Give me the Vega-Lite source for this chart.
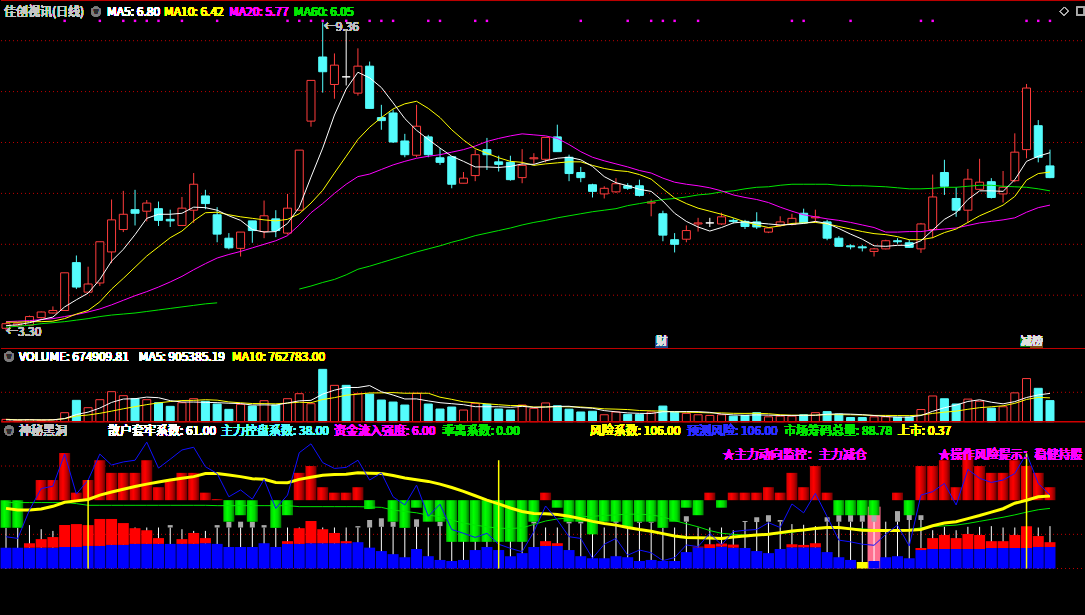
{
"$schema": "https://vega.github.io/schema/vega-lite/v6.json",
"background": "#000000",
"padding": 0,
"spacing": 0,
"bounds": "flush",
"config": {"view": {"stroke": null}, "axis": {"disable": true}, "legend": {"disable": true}, "scale": {"continuousPadding": 0}, "text": {"font": "Noto Sans CJK SC", "fontSize": 12, "align": "left", "baseline": "middle"}},
"datasets": {
"k": [
{"i":0,"o":3.35,"h":3.46,"l":3.30,"c":3.44,"d":"up","m5":3.40,"m10":3.47,"m20":3.48,"m60":3.37,"v":75000,"vd":"up","vm5":60000,"vm10":75000,"ub":119,"bl":61,"st":119,"bln":93,"yln":176,"gln":193,"dot":0},
{"i":1,"o":3.40,"h":3.47,"l":3.37,"c":3.45,"d":"up","m5":3.42,"m10":3.47,"m20":3.49,"m60":3.39,"v":45000,"vd":"up","vm5":58000,"vm10":60000,"ub":119,"bl":61,"st":119,"bln":88,"yln":171,"gln":193,"dot":0},
{"i":2,"o":3.41,"h":3.60,"l":3.39,"c":3.58,"d":"up","m5":3.46,"m10":3.48,"m20":3.50,"m60":3.41,"v":64000,"vd":"up","vm5":61000,"vm10":61000,"ub":200,"bl":61,"rd":74,"st":127,"bln":171,"yln":171,"gln":193,"dot":0},
{"i":3,"o":3.56,"h":3.68,"l":3.54,"c":3.67,"d":"up","m5":3.52,"m10":3.48,"m20":3.52,"m60":3.44,"v":45000,"vd":"up","vm5":57000,"vm10":57000,"ub":259,"bl":61,"rd":86,"st":115,"bln":234,"yln":174,"gln":193,"dot":0},
{"i":4,"o":3.65,"h":3.78,"l":3.64,"c":3.70,"d":"up","m5":3.57,"m10":3.49,"m20":3.54,"m60":3.46,"v":64000,"vd":"up","vm5":59000,"vm10":59000,"ub":259,"bl":61,"rd":92,"st":110,"bln":241,"yln":182,"gln":193,"dot":0},
{"i":5,"o":3.70,"h":4.44,"l":3.70,"c":4.44,"d":"up","m5":3.77,"m10":3.54,"m20":3.58,"m60":3.48,"v":288000,"vd":"up","vm5":101000,"vm10":97000,"ub":338,"bl":63,"rd":127,"st":120,"bln":335,"yln":194,"gln":193,"dot":1},
{"i":6,"o":4.64,"h":4.78,"l":4.12,"c":4.16,"d":"down","m5":3.91,"m10":3.63,"m20":3.62,"m60":3.51,"v":683000,"vd":"down","vm5":229000,"vm10":181000,"ub":222,"bl":63,"rd":130,"st":120,"bln":218,"yln":198,"gln":190,"dot":0},
{"i":7,"o":4.06,"h":4.56,"l":4.06,"c":4.22,"d":"up","m5":4.04,"m10":3.70,"m20":3.67,"m60":3.54,"v":448000,"vd":"up","vm5":306000,"vm10":214000,"ub":259,"bl":66,"rd":127,"st":120,"bln":259,"yln":202,"gln":185,"dot":0},
{"i":8,"o":4.24,"h":5.05,"l":4.18,"c":5.05,"d":"up","m5":4.31,"m10":3.87,"m20":3.73,"m60":3.58,"v":704000,"vd":"up","vm5":437000,"vm10":268000,"ub":317,"bl":66,"rd":145,"st":120,"bln":335,"yln":215,"gln":185,"dot":1},
{"i":9,"o":4.85,"h":5.88,"l":4.63,"c":5.48,"d":"up","m5":4.67,"m10":4.12,"m20":3.81,"m60":3.61,"v":960000,"vd":"up","vm5":617000,"vm10":338000,"ub":280,"bl":69,"rd":145,"st":120,"bln":303,"yln":224,"gln":185,"dot":0},
{"i":10,"o":5.29,"h":6.05,"l":5.24,"c":5.59,"d":"up","m5":4.90,"m10":4.33,"m20":3.90,"m60":3.63,"v":832000,"vd":"up","vm5":725000,"vm10":413000,"ub":280,"bl":69,"rd":133,"st":120,"bln":312,"yln":232,"gln":185,"dot":1},
{"i":11,"o":5.68,"h":6.07,"l":5.37,"c":5.61,"d":"down","m5":5.19,"m10":4.55,"m20":3.99,"m60":3.65,"v":736000,"vd":"down","vm5":736000,"vm10":482000,"ub":280,"bl":72,"rd":118,"st":120,"bln":317,"yln":240,"gln":185,"dot":1},
{"i":12,"o":5.65,"h":5.87,"l":5.45,"c":5.81,"d":"up","m5":5.51,"m10":4.77,"m20":4.07,"m60":3.68,"v":704000,"vd":"up","vm5":787000,"vm10":546000,"ub":317,"bl":72,"rd":112,"st":120,"bln":370,"yln":247,"gln":185,"dot":1},
{"i":13,"o":5.70,"h":5.84,"l":5.36,"c":5.47,"d":"down","m5":5.59,"m10":4.95,"m20":4.16,"m60":3.71,"v":608000,"vd":"down","vm5":768000,"vm10":603000,"ub":238,"bl":72,"rd":89,"st":120,"bln":294,"yln":253,"gln":185,"dot":1},
{"i":14,"o":5.49,"h":5.68,"l":5.34,"c":5.46,"d":"down","m5":5.59,"m10":5.13,"m20":4.26,"m60":3.74,"v":491000,"vd":"down","vm5":674000,"vm10":645000,"ub":259,"bl":72,"st":120,"g0":120,"g1":127,"bln":320,"yln":259,"gln":185,"dot":0},
{"i":15,"o":5.37,"h":5.93,"l":5.37,"c":5.71,"d":"up","m5":5.61,"m10":5.26,"m20":4.37,"m60":3.77,"v":608000,"vd":"up","vm5":629000,"vm10":677000,"ub":280,"bl":72,"rd":86,"st":115,"bln":347,"yln":264,"gln":185,"dot":1},
{"i":16,"o":5.67,"h":6.40,"l":5.42,"c":6.18,"d":"up","m5":5.73,"m10":5.46,"m20":4.50,"m60":3.80,"v":736000,"vd":"up","vm5":629000,"vm10":683000,"ub":280,"bl":72,"rd":104,"st":110,"bln":355,"yln":269,"gln":185,"dot":0},
{"i":17,"o":5.95,"h":6.07,"l":5.69,"c":5.80,"d":"down","m5":5.72,"m10":5.62,"m20":4.62,"m60":3.83,"v":651000,"vd":"down","vm5":619000,"vm10":703000,"ub":222,"bl":74,"rd":89,"st":110,"bln":298,"yln":278,"gln":185,"dot":0},
{"i":18,"o":5.58,"h":5.73,"l":5.04,"c":5.20,"d":"down","m5":5.67,"m10":5.63,"m20":4.73,"m60":3.85,"v":565000,"vd":"down","vm5":610000,"vm10":689000,"ub":203,"bl":72,"st":120,"g0":120,"g1":127,"bln":278,"yln":278,"gln":184,"dot":1},
{"i":19,"o":5.12,"h":5.22,"l":4.90,"c":4.93,"d":"down","m5":5.56,"m10":5.58,"m20":4.80,"v":395000,"vd":"down","vm5":591000,"vm10":633000,"ub":137,"bl":63,"st":120,"g0":120,"g1":137,"bln":210,"yln":274,"gln":184,"dot":0},
{"i":20,"o":4.92,"h":5.24,"l":4.76,"c":5.24,"d":"up","m5":5.47,"m10":5.54,"m20":4.86,"v":555000,"vd":"up","vm5":580000,"vm10":605000,"ub":156,"bl":63,"st":120,"g0":120,"g1":137,"bln":230,"yln":269,"gln":184,"dot":0},
{"i":21,"o":5.46,"h":5.46,"l":5.03,"c":5.27,"d":"down","m5":5.29,"m10":5.51,"m20":4.93,"v":501000,"vd":"down","vm5":533000,"vm10":581000,"ub":137,"bl":63,"st":120,"g0":120,"g1":137,"bln":203,"yln":263,"gln":184,"dot":0},
{"i":22,"o":5.25,"h":5.86,"l":5.12,"c":5.56,"d":"up","m5":5.24,"m10":5.48,"m20":5.00,"v":672000,"vd":"up","vm5":538000,"vm10":578000,"ub":200,"bl":74,"st":120,"g0":120,"g1":127,"bln":261,"yln":261,"gln":184,"dot":0},
{"i":23,"o":5.50,"h":5.67,"l":5.14,"c":5.27,"d":"down","m5":5.25,"m10":5.46,"m20":5.07,"v":533000,"vd":"down","vm5":531000,"vm10":571000,"ub":119,"bl":63,"st":119,"bln":176,"yln":252,"gln":184,"dot":0},
{"i":24,"o":5.22,"h":5.99,"l":5.19,"c":5.71,"d":"up","m5":5.41,"m10":5.49,"m20":5.17,"v":736000,"vd":"up","vm5":599000,"vm10":595000,"ub":156,"bl":72,"rd":80,"st":120,"bln":215,"yln":251,"gln":184,"dot":1},
{"i":25,"o":5.67,"h":6.85,"l":5.67,"c":6.85,"d":"up","m5":5.73,"m10":5.60,"m20":5.38,"m60":4.12,"v":896000,"vd":"up","vm5":668000,"vm10":624000,"ub":280,"bl":72,"rd":118,"st":120,"bln":339,"yln":261,"gln":181,"dot":1},
{"i":26,"o":7.42,"h":8.22,"l":7.31,"c":8.22,"d":"up","m5":6.32,"m10":5.81,"m20":5.62,"m60":4.18,"v":576000,"vd":"up","vm5":683000,"vm10":608000,"ub":300,"bl":74,"rd":139,"st":120,"bln":365,"yln":267,"gln":181,"dot":1},
{"i":27,"o":8.68,"h":9.36,"l":7.98,"c":8.39,"d":"down","m5":6.89,"m10":6.06,"m20":5.80,"m60":4.25,"v":1675000,"vd":"down","vm5":883000,"vm10":710000,"ub":238,"bl":74,"rd":115,"st":120,"bln":310,"yln":273,"gln":181,"dot":1},
{"i":28,"o":8.14,"h":8.75,"l":7.86,"c":8.52,"d":"up","m5":7.54,"m10":6.40,"m20":6.00,"m60":4.31,"v":1163000,"vd":"up","vm5":1009000,"vm10":770000,"ub":222,"bl":74,"rd":104,"st":120,"bln":293,"yln":275,"gln":181,"dot":0},
{"i":29,"o":8.29,"h":9.21,"l":8.12,"c":8.29,"d":"flat","m5":8.05,"m10":6.73,"m20":6.18,"m60":4.40,"v":1163000,"vd":"down","vm5":1095000,"vm10":847000,"ub":222,"bl":74,"rd":80,"st":120,"bln":296,"yln":276,"gln":181,"dot":1},
{"i":30,"o":7.97,"h":8.85,"l":7.92,"c":8.50,"d":"up","m5":8.38,"m10":7.06,"m20":6.33,"m60":4.51,"v":896000,"vd":"up","vm5":1095000,"vm10":881000,"ub":238,"bl":77,"st":120,"g0":120,"g1":124,"bln":317,"yln":280,"gln":181,"dot":0},
{"i":31,"o":8.50,"h":8.59,"l":7.67,"c":7.67,"d":"down","m5":8.27,"m10":7.30,"m20":6.38,"m60":4.57,"v":885000,"vd":"down","vm5":1156000,"vm10":920000,"ub":174,"bl":61,"st":120,"g0":120,"g1":142,"bln":259,"yln":279,"gln":180,"dot":1},
{"i":32,"o":7.49,"h":7.74,"l":7.25,"c":7.43,"d":"down","m5":8.08,"m10":7.49,"m20":6.47,"m60":4.64,"v":693000,"vd":"down","vm5":960000,"vm10":922000,"ub":200,"bl":51,"st":122,"g0":122,"g1":147,"bln":280,"yln":278,"gln":179,"dot":1},
{"i":33,"o":7.58,"h":7.65,"l":6.99,"c":7.01,"d":"down","m5":7.78,"m10":7.66,"m20":6.56,"m60":4.71,"v":629000,"vd":"down","vm5":853000,"vm10":931000,"ub":137,"bl":42,"st":122,"g0":122,"g1":137,"bln":210,"yln":272,"gln":171,"dot":1},
{"i":34,"o":7.03,"h":7.17,"l":6.71,"c":6.76,"d":"down","m5":7.47,"m10":7.76,"m20":6.63,"m60":4.78,"v":533000,"vd":"down","vm5":727000,"vm10":911000,"ub":119,"bl":33,"st":119,"bln":186,"yln":265,"gln":167,"dot":0},
{"i":35,"o":6.75,"h":7.74,"l":6.71,"c":7.32,"d":"up","m5":7.24,"m10":7.81,"m20":6.69,"m60":4.85,"v":907000,"vd":"up","vm5":729000,"vm10":912000,"ub":178,"bl":57,"st":122,"g0":122,"g1":144,"bln":244,"yln":260,"gln":163,"dot":0},
{"i":36,"o":7.11,"h":7.15,"l":6.71,"c":6.76,"d":"down","m5":7.06,"m10":7.67,"m20":6.73,"m60":4.91,"v":565000,"vd":"down","vm5":665000,"vm10":911000,"ub":137,"bl":36,"st":120,"bln":153,"yln":255,"gln":156,"dot":1},
{"i":37,"o":6.70,"h":6.89,"l":6.56,"c":6.61,"d":"down","m5":6.89,"m10":7.49,"m20":6.76,"m60":4.97,"v":405000,"vd":"down","vm5":608000,"vm10":784000,"ub":137,"bl":25,"st":124,"g0":124,"g1":137,"bln":188,"yln":247,"gln":152,"dot":1},
{"i":38,"o":6.72,"h":6.72,"l":6.10,"c":6.18,"d":"down","m5":6.73,"m10":7.25,"m20":6.81,"m60":5.04,"v":469000,"vd":"down","vm5":576000,"vm10":715000,"ub":78,"bl":22,"st":120,"bln":114,"yln":237,"gln":142,"dot":0},
{"i":39,"o":6.20,"h":6.42,"l":6.20,"c":6.30,"d":"up","m5":6.63,"m10":7.05,"m20":6.86,"m60":5.10,"v":373000,"vd":"up","vm5":544000,"vm10":636000,"ub":78,"bl":25,"st":120,"bln":103,"yln":226,"gln":133,"dot":0},
{"i":40,"o":6.35,"h":6.86,"l":6.24,"c":6.76,"d":"up","m5":6.52,"m10":6.88,"m20":6.93,"m60":5.17,"v":587000,"vd":"up","vm5":480000,"vm10":605000,"ub":78,"bl":54,"st":120,"bln":91,"yln":213,"gln":127,"dot":1},
{"i":41,"o":6.86,"h":7.09,"l":6.46,"c":6.76,"d":"down","m5":6.52,"m10":6.79,"m20":7.02,"m60":5.22,"v":555000,"vd":"down","vm5":478000,"vm10":572000,"ub":78,"bl":63,"st":120,"bln":103,"yln":200,"gln":122,"dot":1},
{"i":42,"o":6.62,"h":6.74,"l":6.43,"c":6.57,"d":"down","m5":6.51,"m10":6.70,"m20":7.08,"m60":5.27,"v":405000,"vd":"down","vm5":478000,"vm10":543000,"ub":78,"bl":54,"st":120,"bln":71,"yln":189,"gln":118,"dot":0},
{"i":43,"o":6.61,"h":6.74,"l":6.25,"c":6.27,"d":"down","m5":6.53,"m10":6.63,"m20":7.13,"m60":5.32,"v":373000,"vd":"down","vm5":459000,"vm10":517000,"ub":78,"bl":36,"st":120,"bln":59,"yln":177,"gln":117,"dot":0},
{"i":44,"o":6.31,"h":6.87,"l":6.20,"c":6.55,"d":"up","m5":6.58,"m10":6.61,"m20":7.17,"m60":5.38,"v":533000,"vd":"up","vm5":491000,"vm10":517000,"ub":78,"bl":45,"st":120,"bln":49,"yln":167,"gln":119,"dot":0},
{"i":45,"o":6.68,"h":6.79,"l":6.58,"c":6.70,"d":"up","m5":6.57,"m10":6.55,"m20":7.15,"m60":5.43,"v":427000,"vd":"up","vm5":459000,"vm10":469000,"ub":137,"bl":63,"st":132,"g0":132,"g1":137,"bln":108,"yln":161,"gln":129,"dot":0},
{"i":46,"o":6.67,"h":7.10,"l":6.61,"c":7.10,"d":"up","m5":6.64,"m10":6.58,"m20":7.13,"m60":5.47,"v":600000,"vd":"up","vm5":468000,"vm10":473000,"ub":222,"bl":66,"rd":80,"st":120,"bln":183,"yln":160,"gln":139,"dot":0},
{"i":47,"o":7.11,"h":7.35,"l":6.82,"c":6.82,"d":"down","m5":6.69,"m10":6.60,"m20":7.08,"m60":5.52,"v":510000,"vd":"down","vm5":489000,"vm10":483000,"ub":178,"bl":66,"rd":74,"st":120,"bln":142,"yln":158,"gln":145,"dot":0},
{"i":48,"o":6.71,"h":6.76,"l":6.24,"c":6.39,"d":"down","m5":6.71,"m10":6.62,"m20":6.96,"m60":5.56,"v":400000,"vd":"down","vm5":494000,"vm10":476000,"ub":137,"bl":54,"st":132,"g0":132,"g1":137,"bln":93,"yln":153,"gln":148,"dot":0},
{"i":49,"o":6.41,"h":6.52,"l":6.22,"c":6.31,"d":"down","m5":6.66,"m10":6.62,"m20":6.82,"m60":5.60,"v":311000,"vd":"down","vm5":450000,"vm10":470000,"ub":137,"bl":36,"st":132,"g0":132,"g1":137,"bln":88,"yln":146,"gln":151,"dot":1},
{"i":50,"o":6.17,"h":6.19,"l":5.92,"c":6.04,"d":"down","m5":6.53,"m10":6.55,"m20":6.71,"m60":5.64,"v":334000,"vd":"down","vm5":431000,"vm10":445000,"ub":100,"bl":30,"st":120,"bln":30,"yln":138,"gln":153,"dot":0},
{"i":51,"o":5.99,"h":6.14,"l":5.90,"c":6.10,"d":"up","m5":6.33,"m10":6.49,"m20":6.64,"m60":5.67,"v":222000,"vd":"up","vm5":355000,"vm10":412000,"ub":137,"bl":30,"st":120,"bln":71,"yln":132,"gln":155,"dot":0},
{"i":52,"o":6.03,"h":6.30,"l":6.01,"c":6.19,"d":"up","m5":6.21,"m10":6.45,"m20":6.58,"m60":5.70,"v":311000,"vd":"up","vm5":316000,"vm10":402000,"ub":137,"bl":36,"st":134,"g0":134,"g1":156,"bln":88,"yln":127,"gln":157,"dot":0},
{"i":53,"o":6.15,"h":6.20,"l":6.07,"c":6.10,"d":"down","m5":6.15,"m10":6.43,"m20":6.52,"m60":5.76,"v":234000,"vd":"down","vm5":282000,"vm10":388000,"ub":119,"bl":33,"st":119,"bln":39,"yln":120,"gln":159,"dot":1},
{"i":54,"o":6.15,"h":6.27,"l":5.94,"c":5.96,"d":"down","m5":6.08,"m10":6.37,"m20":6.45,"m60":5.80,"v":234000,"vd":"down","vm5":267000,"vm10":358000,"ub":137,"bl":22,"st":134,"g0":134,"g1":137,"bln":54,"yln":114,"gln":159,"dot":0},
{"i":55,"o":5.81,"h":5.88,"l":5.55,"c":5.83,"d":"up","m5":6.04,"m10":6.28,"m20":6.40,"m60":5.84,"v":311000,"vd":"up","vm5":262000,"vm10":347000,"ub":137,"bl":25,"st":134,"g0":134,"g1":137,"bln":46,"yln":109,"gln":157,"dot":1},
{"i":56,"o":5.60,"h":5.66,"l":5.06,"c":5.18,"d":"down","m5":5.85,"m10":6.09,"m20":6.30,"m60":5.88,"v":500000,"vd":"down","vm5":318000,"vm10":337000,"ub":119,"bl":22,"st":119,"bln":23,"yln":102,"gln":151,"dot":1},
{"i":57,"o":5.09,"h":5.22,"l":4.84,"c":5.00,"d":"down","m5":5.61,"m10":5.91,"m20":6.22,"m60":5.90,"v":311000,"vd":"down","vm5":318000,"vm10":317000,"ub":137,"bl":22,"st":120,"bln":32,"yln":95,"gln":140,"dot":1},
{"i":58,"o":5.10,"h":5.37,"l":5.04,"c":5.27,"d":"up","m5":5.45,"m10":5.80,"m20":6.18,"m60":5.93,"v":267000,"vd":"up","vm5":325000,"vm10":304000,"ub":178,"bl":48,"st":137,"g0":137,"g1":153,"bln":69,"yln":91,"gln":131,"dot":0},
{"i":59,"o":5.40,"h":5.52,"l":5.25,"c":5.42,"d":"up","m5":5.34,"m10":5.71,"m20":6.15,"m60":5.97,"v":222000,"vd":"up","vm5":322000,"vm10":295000,"ub":156,"bl":62,"rd":64,"st":120,"bln":64,"yln":90,"gln":122,"dot":1},
{"i":60,"o":5.42,"h":5.52,"l":5.34,"c":5.42,"d":"flat","m5":5.26,"m10":5.65,"m20":6.11,"m60":5.99,"v":200000,"vd":"up","vm5":300000,"vm10":281000,"ub":222,"bl":60,"rd":71,"st":120,"bln":103,"yln":89,"gln":111,"dot":0},
{"i":61,"o":5.40,"h":5.62,"l":5.38,"c":5.54,"d":"up","m5":5.33,"m10":5.59,"m20":6.05,"m60":6.03,"v":222000,"vd":"up","vm5":244000,"vm10":281000,"ub":178,"bl":64,"rd":73,"st":120,"bln":69,"yln":88,"gln":103,"dot":0},
{"i":62,"o":5.47,"h":5.51,"l":5.41,"c":5.45,"d":"down","m5":5.42,"m10":5.52,"m20":5.97,"m60":6.05,"v":178000,"vd":"down","vm5":218000,"vm10":268000,"ub":222,"bl":61,"rd":70,"st":112,"bln":108,"yln":92,"gln":100,"dot":0},
{"i":63,"o":5.45,"h":5.48,"l":5.30,"c":5.35,"d":"down","m5":5.44,"m10":5.44,"m20":5.92,"m60":6.09,"v":200000,"vd":"down","vm5":204000,"vm10":265000,"ub":222,"bl":60,"st":136,"g0":136,"g1":139,"bln":112,"yln":95,"gln":98,"dot":0},
{"i":64,"o":5.44,"h":5.63,"l":5.30,"c":5.34,"d":"down","m5":5.42,"m10":5.38,"m20":5.88,"m60":6.12,"v":289000,"vd":"down","vm5":218000,"vm10":270000,"ub":222,"bl":51,"st":136,"g0":136,"g1":150,"bln":114,"yln":98,"gln":96,"dot":0},
{"i":65,"o":5.24,"h":5.33,"l":5.22,"c":5.32,"d":"up","m5":5.40,"m10":5.33,"m20":5.82,"m60":6.13,"v":156000,"vd":"up","vm5":209000,"vm10":255000,"ub":238,"bl":45,"st":137,"g0":137,"g1":156,"bln":134,"yln":100,"gln":99,"dot":0},
{"i":66,"o":5.37,"h":5.55,"l":5.35,"c":5.44,"d":"up","m5":5.38,"m10":5.36,"m20":5.73,"m60":6.16,"v":178000,"vd":"up","vm5":200000,"vm10":222000,"ub":222,"bl":57,"st":137,"g0":137,"g1":142,"bln":120,"yln":105,"gln":102,"dot":0},
{"i":67,"o":5.39,"h":5.60,"l":5.37,"c":5.51,"d":"up","m5":5.39,"m10":5.41,"m20":5.65,"m60":6.18,"v":178000,"vd":"up","vm5":200000,"vm10":209000,"ub":280,"bl":62,"rd":71,"st":130,"bln":189,"yln":110,"gln":106,"dot":1},
{"i":68,"o":5.61,"h":5.70,"l":5.41,"c":5.42,"d":"down","m5":5.41,"m10":5.42,"m20":5.58,"m60":6.18,"v":222000,"vd":"down","vm5":205000,"vm10":205000,"ub":238,"bl":62,"rd":69,"st":128,"bln":163,"yln":113,"gln":111,"dot":1},
{"i":69,"o":5.52,"h":5.68,"l":5.43,"c":5.54,"d":"up","m5":5.45,"m10":5.43,"m20":5.54,"m60":6.18,"v":289000,"vd":"up","vm5":205000,"vm10":211000,"ub":300,"bl":62,"rd":74,"st":124,"bln":220,"yln":117,"gln":116,"dot":0},
{"i":70,"o":5.44,"h":5.48,"l":5.08,"c":5.12,"d":"down","m5":5.41,"m10":5.40,"m20":5.50,"m60":6.18,"v":323000,"vd":"down","vm5":238000,"vm10":224000,"ub":222,"bl":48,"st":137,"g0":137,"g1":150,"bln":152,"yln":120,"gln":119,"dot":0},
{"i":71,"o":5.12,"h":5.16,"l":4.95,"c":4.96,"d":"down","m5":5.31,"m10":5.35,"m20":5.47,"m60":6.16,"v":245000,"vd":"down","vm5":251000,"vm10":226000,"ub":156,"bl":33,"st":137,"g0":137,"g1":156,"bln":83,"yln":120,"gln":120,"dot":0},
{"i":72,"o":4.97,"h":5.00,"l":4.90,"c":4.95,"d":"down","m5":5.20,"m10":5.30,"m20":5.43,"m60":6.15,"v":133000,"vd":"down","vm5":242000,"vm10":221000,"ub":156,"bl":25,"st":137,"g0":137,"g1":156,"bln":78,"yln":116,"gln":118,"dot":1},
{"i":73,"o":4.95,"h":4.99,"l":4.86,"c":4.93,"d":"down","m5":5.10,"m10":5.25,"m20":5.38,"m60":6.15,"v":133000,"vd":"down","vm5":225000,"vm10":215000,"ub":156,"bl":0,"st":137,"g0":137,"g1":156,"bln":71,"yln":112,"gln":116,"dot":0},
{"i":74,"o":4.86,"h":4.93,"l":4.76,"c":4.91,"d":"up","m5":4.97,"m10":5.21,"m20":5.33,"m60":6.14,"v":156000,"vd":"up","vm5":198000,"vm10":201000,"ub":156,"bl":22,"st":137,"g0":137,"g1":156,"bln":68,"yln":111,"gln":114,"dot":0},
{"i":75,"o":4.91,"h":5.09,"l":4.90,"c":5.07,"d":"up","m5":4.96,"m10":5.19,"m20":5.24,"m60":6.13,"v":156000,"vd":"up","vm5":165000,"vm10":201000,"ub":200,"bl":33,"st":137,"bln":100,"yln":111,"gln":114,"dot":0},
{"i":76,"o":5.07,"h":5.12,"l":5.01,"c":5.05,"d":"down","m5":4.98,"m10":5.15,"m20":5.24,"m60":6.11,"v":145000,"vd":"down","vm5":145000,"vm10":198000,"ub":222,"bl":36,"st":137,"g0":137,"g1":168,"bln":127,"yln":111,"gln":114,"dot":0},
{"i":77,"o":5.03,"h":5.09,"l":4.93,"c":4.94,"d":"down","m5":4.98,"m10":5.09,"m20":5.25,"m60":6.09,"v":145000,"vd":"down","vm5":147000,"vm10":195000,"ub":156,"bl":30,"st":142,"g0":142,"g1":166,"bln":66,"yln":112,"gln":114,"dot":0},
{"i":78,"o":4.91,"h":5.42,"l":4.83,"c":5.40,"d":"up","m5":5.07,"m10":5.09,"m20":5.25,"m60":6.09,"v":389000,"vd":"up","vm5":198000,"vm10":211000,"ub":300,"bl":54,"rd":60,"st":142,"g0":142,"g1":156,"bln":215,"yln":114,"gln":119,"dot":1},
{"i":79,"o":5.29,"h":6.37,"l":5.12,"c":5.93,"d":"up","m5":5.28,"m10":5.13,"m20":5.28,"m60":6.10,"v":823000,"vd":"up","vm5":332000,"vm10":265000,"ub":300,"bl":57,"rd":89,"st":112,"bln":225,"yln":125,"gln":123,"dot":1},
{"i":80,"o":6.41,"h":6.66,"l":5.97,"c":6.14,"d":"down","m5":5.49,"m10":5.23,"m20":5.30,"m60":6.12,"v":734000,"vd":"down","vm5":447000,"vm10":306000,"ub":317,"bl":57,"rd":98,"st":122,"bln":249,"yln":133,"gln":125,"dot":0},
{"i":81,"o":5.90,"h":6.12,"l":5.54,"c":5.67,"d":"down","m5":5.62,"m10":5.30,"m20":5.32,"m60":6.12,"v":567000,"vd":"down","vm5":532000,"vm10":338000,"ub":238,"bl":57,"rd":89,"st":112,"bln":186,"yln":137,"gln":127,"dot":0},
{"i":82,"o":5.67,"h":6.48,"l":5.42,"c":6.28,"d":"up","m5":5.88,"m10":5.43,"m20":5.37,"m60":6.14,"v":723000,"vd":"up","vm5":647000,"vm10":397000,"ub":337,"bl":57,"rd":101,"st":122,"bln":290,"yln":146,"gln":132,"dot":0},
{"i":83,"o":6.08,"h":6.68,"l":6.07,"c":6.22,"d":"up","m5":6.05,"m10":5.56,"m20":5.42,"m60":6.16,"v":656000,"vd":"up","vm5":701000,"vm10":449000,"ub":300,"bl":57,"rd":98,"st":122,"bln":264,"yln":155,"gln":138,"dot":0},
{"i":84,"o":6.23,"h":6.30,"l":5.90,"c":5.92,"d":"down","m5":6.05,"m10":5.66,"m20":5.45,"m60":6.16,"v":434000,"vd":"down","vm5":623000,"vm10":477000,"ub":280,"bl":60,"rd":80,"st":124,"bln":252,"yln":165,"gln":144,"dot":0},
{"i":85,"o":5.99,"h":6.44,"l":5.82,"c":6.12,"d":"up","m5":6.04,"m10":5.77,"m20":5.48,"m60":6.14,"v":478000,"vd":"up","vm5":572000,"vm10":509000,"ub":280,"bl":60,"rd":80,"st":120,"bln":259,"yln":175,"gln":150,"dot":0},
{"i":86,"o":6.25,"h":7.18,"l":6.22,"c":6.81,"d":"up","m5":6.27,"m10":5.94,"m20":5.52,"m60":6.13,"v":923000,"vd":"up","vm5":643000,"vm10":587000,"ub":317,"bl":60,"rd":98,"st":120,"bln":278,"yln":191,"gln":157,"dot":0},
{"i":87,"o":6.86,"h":8.15,"l":6.69,"c":8.07,"d":"up","m5":6.63,"m10":6.26,"m20":5.63,"m60":6.12,"v":1380000,"vd":"up","vm5":774000,"vm10":711000,"ub":300,"bl":60,"rd":124,"st":120,"bln":337,"yln":200,"gln":165,"dot":1},
{"i":88,"o":7.33,"h":7.44,"l":6.61,"c":6.71,"d":"down","m5":6.73,"m10":6.39,"m20":5.72,"m60":6.09,"v":1068000,"vd":"down","vm5":857000,"vm10":779000,"ub":280,"bl":63,"rd":95,"st":120,"bln":249,"yln":210,"gln":172,"dot":1},
{"i":89,"o":6.54,"h":6.86,"l":6.30,"c":6.31,"d":"down","m5":6.80,"m10":6.42,"m20":5.77,"m60":6.05,"v":674910,"vd":"down","vm5":905385,"vm10":762783,"ub":238,"bl":63,"rd":77,"st":124,"bln":215,"yln":212,"gln":176,"dot":1}
],
"ev": [
{"i":74,"kind":"pink","lo":0,"hi":181},
{"i":73,"kind":"yb","lo":0,"hi":19},
{"i":7,"kind":"vl","lo":0,"hi":259},
{"i":42,"kind":"vl","lo":0,"hi":317},
{"i":87,"kind":"vl","lo":0,"hi":337}
]
},
"vconcat": [
{
"width": 1085, "height": 349,
"data": {"name": "k"},
"layer": [
{"data": {"values": [{"p":4},{"p":5},{"p":6},{"p":7},{"p":8},{"p":9}]}, "mark": {"type": "rule", "color": "#c00000", "strokeDash": [1,3], "strokeWidth": 1}, "encoding": {"y": {"field": "p", "type": "quantitative", "scale": {"domain": [2.943, 9.7996], "nice": false, "zero": false, "padding": 0}}}},
{"data": {"values": [{"p":9.789},{"p":2.953}]}, "mark": {"type": "rule", "color": "#c00000", "strokeWidth": 1}, "encoding": {"y": {"field": "p", "type": "quantitative"}}},
{"mark": {"type": "rule", "strokeWidth": 1}, "encoding": {"x": {"field": "i", "type": "quantitative", "scale": {"domain": [-0.4263, 92.07], "nice": false, "zero": false, "padding": 0}}, "y": {"field": "l", "type": "quantitative"}, "y2": {"field": "h"}, "color": {"field": "d", "type": "nominal", "scale": {"domain": ["up","down","flat"], "range": ["#ff3c3c","#54fcfc","#ffffff"]}, "legend": null}}},
{"mark": {"type": "bar", "size": 8, "strokeWidth": 1}, "encoding": {"x": {"field": "i", "type": "quantitative"}, "y": {"field": "o", "type": "quantitative"}, "y2": {"field": "c"}, "fill": {"field": "d", "type": "nominal", "scale": {"domain": ["up","down","flat"], "range": ["#000000","#54fcfc","#ffffff"]}, "legend": null}, "stroke": {"field": "d", "type": "nominal", "scale": {"domain": ["up","down","flat"], "range": ["#ff3c3c","#54fcfc","#ffffff"]}, "legend": null}}},
{"transform": [{"filter": "datum.i <= 18"}], "mark": {"type": "line", "color": "#00e600", "strokeWidth": 1}, "encoding": {"x": {"field": "i", "type": "quantitative"}, "y": {"field": "m60", "type": "quantitative"}}},
{"transform": [{"filter": "datum.i >= 25"}], "mark": {"type": "line", "color": "#00e600", "strokeWidth": 1}, "encoding": {"x": {"field": "i", "type": "quantitative"}, "y": {"field": "m60", "type": "quantitative"}}},
{"mark": {"type": "line", "color": "#ff00ff", "strokeWidth": 1}, "encoding": {"x": {"field": "i", "type": "quantitative"}, "y": {"field": "m20", "type": "quantitative"}}},
{"mark": {"type": "line", "color": "#ffff00", "strokeWidth": 1}, "encoding": {"x": {"field": "i", "type": "quantitative"}, "y": {"field": "m10", "type": "quantitative"}}},
{"mark": {"type": "line", "color": "#ffffff", "strokeWidth": 1}, "encoding": {"x": {"field": "i", "type": "quantitative"}, "y": {"field": "m5", "type": "quantitative"}}},
{"transform": [{"filter": "datum.dot == 1"}], "mark": {"type": "point", "shape": "square", "filled": true, "size": 6, "color": "#ff00ff", "opacity": 1}, "encoding": {"x": {"field": "i", "type": "quantitative"}, "y": {"datum": 9.39, "type": "quantitative"}}},
{"mark": {"type": "text", "text": "佳创视讯(日线)", "color": "#c8c8c8"}, "encoding": {"x": {"datum": -0.17, "type": "quantitative"}, "y": {"datum": 9.564, "type": "quantitative"}}},
{"mark": {"type": "point", "shape": "circle", "filled": true, "size": 95, "color": "#7c7c7c", "opacity": 1}, "encoding": {"x": {"datum": 7.67, "type": "quantitative"}, "y": {"datum": 9.57, "type": "quantitative"}}},
{"mark": {"type": "text", "text": "∨", "color": "#2a2a2a", "fontSize": 8, "align": "center", "font": "DejaVu Sans", "fontWeight": "bold"}, "encoding": {"x": {"datum": 7.67, "type": "quantitative"}, "y": {"datum": 9.56, "type": "quantitative"}}},
{"mark": {"type": "text", "text": "MA5: 6.80", "color": "#ffffff"}, "encoding": {"x": {"datum": 8.61, "type": "quantitative"}, "y": {"datum": 9.564, "type": "quantitative"}}},
{"mark": {"type": "text", "text": "MA10: 6.42", "color": "#ffff00"}, "encoding": {"x": {"datum": 13.47, "type": "quantitative"}, "y": {"datum": 9.564, "type": "quantitative"}}},
{"mark": {"type": "text", "text": "MA20: 5.77", "color": "#ff00ff"}, "encoding": {"x": {"datum": 19.01, "type": "quantitative"}, "y": {"datum": 9.564, "type": "quantitative"}}},
{"mark": {"type": "text", "text": "MA60: 6.05", "color": "#00e600"}, "encoding": {"x": {"datum": 24.55, "type": "quantitative"}, "y": {"datum": 9.564, "type": "quantitative"}}},
{"mark": {"type": "text", "text": "←9.36", "color": "#c0c0c0", "dx": 1}, "encoding": {"x": {"datum": 27, "type": "quantitative"}, "y": {"datum": 9.27, "type": "quantitative"}}},
{"mark": {"type": "text", "text": "←3.30", "color": "#c0c0c0"}, "encoding": {"x": {"datum": 0, "type": "quantitative"}, "y": {"datum": 3.27, "type": "quantitative"}}},
{"mark": {"type": "point", "shape": "square", "filled": true, "size": 144, "color": "#1e4a8c", "opacity": 1}, "encoding": {"x": {"datum": 55.9, "type": "quantitative"}, "y": {"datum": 3.08, "type": "quantitative"}}},
{"mark": {"type": "text", "text": "财", "color": "#e0e0e0", "align": "center", "fontSize": 11}, "encoding": {"x": {"datum": 55.9, "type": "quantitative"}, "y": {"datum": 3.08, "type": "quantitative"}}},
{"mark": {"type": "point", "shape": "square", "filled": true, "size": 100, "color": "#0a7a0a", "opacity": 1}, "encoding": {"x": {"datum": 86.9, "type": "quantitative"}, "y": {"datum": 3.08, "type": "quantitative"}}},
{"mark": {"type": "point", "shape": "square", "filled": true, "size": 144, "color": "#7a4a10", "opacity": 1}, "encoding": {"x": {"datum": 87.85, "type": "quantitative"}, "y": {"datum": 3.08, "type": "quantitative"}}},
{"mark": {"type": "text", "text": "减榜", "color": "#e0e0e0", "align": "center", "fontSize": 11}, "encoding": {"x": {"datum": 87.45, "type": "quantitative"}, "y": {"datum": 3.08, "type": "quantitative"}}},
{"mark": {"type": "point", "shape": "diamond", "filled": false, "size": 70, "color": "#b0b0b0", "strokeWidth": 1}, "encoding": {"x": {"datum": 90.2, "type": "quantitative"}, "y": {"datum": 9.58, "type": "quantitative"}}},
{"mark": {"type": "point", "shape": "square", "filled": false, "size": 60, "color": "#b0b0b0", "strokeWidth": 1}, "encoding": {"x": {"datum": 91.6, "type": "quantitative"}, "y": {"datum": 9.58, "type": "quantitative"}}}
]
},
{
"width": 1085, "height": 74,
"data": {"name": "k"},
"layer": [
{"data": {"values": [{"p":941000}]}, "mark": {"type": "rule", "color": "#c00000", "strokeDash": [1,3], "strokeWidth": 1}, "encoding": {"y": {"field": "p", "type": "quantitative", "scale": {"domain": [-41600, 2326400], "nice": false, "zero": false, "padding": 0}}}},
{"mark": {"type": "bar", "size": 8, "strokeWidth": 1}, "encoding": {"x": {"field": "i", "type": "quantitative", "scale": {"domain": [-0.4263, 92.07], "nice": false, "zero": false, "padding": 0}}, "y": {"field": "v", "type": "quantitative"}, "y2": {"datum": 0}, "fill": {"field": "vd", "type": "nominal", "scale": {"domain": ["up","down","flat"], "range": ["#000000","#54fcfc","#ffffff"]}, "legend": null}, "stroke": {"field": "vd", "type": "nominal", "scale": {"domain": ["up","down","flat"], "range": ["#ff3c3c","#54fcfc","#ffffff"]}, "legend": null}}},
{"data": {"values": [{"p":0}]}, "mark": {"type": "rule", "color": "#d00000", "strokeWidth": 1.5}, "encoding": {"y": {"field": "p", "type": "quantitative"}}},
{"mark": {"type": "line", "color": "#ffff00", "strokeWidth": 1}, "encoding": {"x": {"field": "i", "type": "quantitative"}, "y": {"field": "vm10", "type": "quantitative"}}},
{"mark": {"type": "line", "color": "#ffffff", "strokeWidth": 1}, "encoding": {"x": {"field": "i", "type": "quantitative"}, "y": {"field": "vm5", "type": "quantitative"}}},
{"mark": {"type": "point", "shape": "circle", "filled": true, "size": 95, "color": "#7c7c7c", "opacity": 1}, "encoding": {"x": {"datum": 0.26, "type": "quantitative"}, "y": {"datum": 2080000, "type": "quantitative"}}},
{"mark": {"type": "text", "text": "∨", "color": "#2a2a2a", "fontSize": 8, "align": "center", "font": "DejaVu Sans", "fontWeight": "bold"}, "encoding": {"x": {"datum": 0.26, "type": "quantitative"}, "y": {"datum": 2060000, "type": "quantitative"}}},
{"mark": {"type": "text", "text": "VOLUME: 674909.81", "color": "#ffffff"}, "encoding": {"x": {"datum": 1.11, "type": "quantitative"}, "y": {"datum": 2070000, "type": "quantitative"}}},
{"mark": {"type": "text", "text": "MA5: 905385.19", "color": "#ffffff"}, "encoding": {"x": {"datum": 11.31, "type": "quantitative"}, "y": {"datum": 2070000, "type": "quantitative"}}},
{"mark": {"type": "text", "text": "MA10: 762783.00", "color": "#ffff00"}, "encoding": {"x": {"datum": 19.27, "type": "quantitative"}, "y": {"datum": 2070000, "type": "quantitative"}}}
]
},
{
"width": 1085, "height": 192,
"data": {"name": "k"},
"layer": [
{"data": {"values": [{"p":0},{"p":100},{"p":300}]}, "mark": {"type": "rule", "color": "#c00000", "strokeDash": [1,3], "strokeWidth": 1}, "encoding": {"y": {"field": "p", "type": "quantitative", "scale": {"domain": [-136.2, 426], "nice": false, "zero": false, "padding": 0}}}},
{"data": {"name": "ev"}, "transform": [{"filter": "datum.kind == 'pink'"}], "mark": {"type": "bar", "size": 13, "color": "#ff7090"}, "encoding": {"x": {"field": "i", "type": "quantitative", "scale": {"domain": [-0.4263, 92.07], "nice": false, "zero": false, "padding": 0}}, "y": {"field": "hi", "type": "quantitative"}, "y2": {"field": "lo"}}},
{"mark": {"type": "rule", "color": "#ffffff", "strokeWidth": 1}, "encoding": {"x": {"field": "i", "type": "quantitative"}, "y": {"field": "st", "type": "quantitative"}, "y2": {"datum": 0}}},
{"transform": [{"filter": "isValid(datum.g0)"}], "mark": {"type": "bar", "size": 5, "color": "#a8a8a8"}, "encoding": {"x": {"field": "i", "type": "quantitative"}, "y": {"field": "g1", "type": "quantitative"}, "y2": {"field": "g0"}}},
{"transform": [{"filter": "datum.bl > 0"}], "mark": {"type": "bar", "size": 11, "color": "#0000ff"}, "encoding": {"x": {"field": "i", "type": "quantitative"}, "y": {"field": "bl", "type": "quantitative"}, "y2": {"datum": 0}}},
{"transform": [{"filter": "isValid(datum.rd)"}], "mark": {"type": "bar", "size": 11, "color": "#ff0000"}, "encoding": {"x": {"field": "i", "type": "quantitative"}, "y": {"field": "rd", "type": "quantitative"}, "y2": {"field": "bl"}}},
{"data": {"name": "ev"}, "transform": [{"filter": "datum.kind == 'yb'"}], "mark": {"type": "bar", "size": 11, "color": "#ffff00"}, "encoding": {"x": {"field": "i", "type": "quantitative"}, "y": {"field": "hi", "type": "quantitative"}, "y2": {"field": "lo"}}},
{"transform": [{"filter": "datum.ub > 200"}], "mark": {"type": "bar", "size": 11, "color": {"gradient": "linear", "x1": 0, "y1": 0, "x2": 1, "y2": 0, "stops": [{"offset": 0, "color": "#d00000"}, {"offset": 0.35, "color": "#ff0000"}, {"offset": 0.7, "color": "#c00000"}, {"offset": 1, "color": "#6a0000"}]}}, "encoding": {"x": {"field": "i", "type": "quantitative"}, "y": {"field": "ub", "type": "quantitative"}, "y2": {"datum": 200}}},
{"transform": [{"filter": "datum.ub < 200"}], "mark": {"type": "bar", "size": 11, "color": {"gradient": "linear", "x1": 0, "y1": 0, "x2": 1, "y2": 0, "stops": [{"offset": 0, "color": "#00c800"}, {"offset": 0.35, "color": "#00ff00"}, {"offset": 0.7, "color": "#00d800"}, {"offset": 1, "color": "#007800"}]}}, "encoding": {"x": {"field": "i", "type": "quantitative"}, "y": {"field": "ub", "type": "quantitative"}, "y2": {"datum": 200}}},
{"mark": {"type": "line", "color": "#00e600", "strokeWidth": 1}, "encoding": {"x": {"field": "i", "type": "quantitative"}, "y": {"field": "gln", "type": "quantitative"}}},
{"mark": {"type": "line", "color": "#ffff00", "strokeWidth": 3}, "encoding": {"x": {"field": "i", "type": "quantitative"}, "y": {"field": "yln", "type": "quantitative"}}},
{"mark": {"type": "line", "color": "#1010ff", "strokeWidth": 1}, "encoding": {"x": {"field": "i", "type": "quantitative"}, "y": {"field": "bln", "type": "quantitative"}}},
{"data": {"name": "ev"}, "transform": [{"filter": "datum.kind == 'vl'"}], "mark": {"type": "rule", "color": "#ffff00", "strokeWidth": 1.5}, "encoding": {"x": {"field": "i", "type": "quantitative"}, "y": {"field": "hi", "type": "quantitative"}, "y2": {"field": "lo"}}},
{"mark": {"type": "point", "shape": "circle", "filled": true, "size": 95, "color": "#7c7c7c", "opacity": 1}, "encoding": {"x": {"datum": 0.26, "type": "quantitative"}, "y": {"datum": 404, "type": "quantitative"}}},
{"mark": {"type": "text", "text": "∨", "color": "#2a2a2a", "fontSize": 8, "align": "center", "font": "DejaVu Sans", "fontWeight": "bold"}, "encoding": {"x": {"datum": 0.26, "type": "quantitative"}, "y": {"datum": 401, "type": "quantitative"}}},
{"mark": {"type": "text", "text": "神秘黑洞", "color": "#c8c8c8"}, "encoding": {"x": {"datum": 1.11, "type": "quantitative"}, "y": {"datum": 402.6, "type": "quantitative"}}},
{"mark": {"type": "text", "text": "散户套牢系数: 61.00", "color": "#ffffff"}, "encoding": {"x": {"datum": 8.70, "type": "quantitative"}, "y": {"datum": 402.6, "type": "quantitative"}}},
{"mark": {"type": "text", "text": "主力控盘系数: 38.00", "color": "#54fcfc"}, "encoding": {"x": {"datum": 18.33, "type": "quantitative"}, "y": {"datum": 402.6, "type": "quantitative"}}},
{"mark": {"type": "text", "text": "资金流入强度: 6.00", "color": "#ff00ff"}, "encoding": {"x": {"datum": 27.96, "type": "quantitative"}, "y": {"datum": 402.6, "type": "quantitative"}}},
{"mark": {"type": "text", "text": "乖离系数: 0.00", "color": "#00e600"}, "encoding": {"x": {"datum": 37.21, "type": "quantitative"}, "y": {"datum": 402.6, "type": "quantitative"}}},
{"mark": {"type": "text", "text": "风险系数: 106.00", "color": "#ffff00"}, "encoding": {"x": {"datum": 49.76, "type": "quantitative"}, "y": {"datum": 402.6, "type": "quantitative"}}},
{"mark": {"type": "text", "text": "预测风险: 106.00", "color": "#3030ff"}, "encoding": {"x": {"datum": 58.06, "type": "quantitative"}, "y": {"datum": 402.6, "type": "quantitative"}}},
{"mark": {"type": "text", "text": "市场筹码总量: 88.78", "color": "#00e600"}, "encoding": {"x": {"datum": 66.33, "type": "quantitative"}, "y": {"datum": 402.6, "type": "quantitative"}}},
{"mark": {"type": "text", "text": "上市: 0.37", "color": "#ffff00"}, "encoding": {"x": {"datum": 76.02, "type": "quantitative"}, "y": {"datum": 402.6, "type": "quantitative"}}},
{"mark": {"type": "text", "text": "★主力动向监控：主力减仓", "color": "#ff00ff", "fontSize": 12}, "encoding": {"x": {"datum": 61.1, "type": "quantitative"}, "y": {"datum": 332, "type": "quantitative"}}},
{"mark": {"type": "text", "text": "★操作风险提示：稳健持股", "color": "#ff00ff", "fontSize": 12}, "encoding": {"x": {"datum": 79.5, "type": "quantitative"}, "y": {"datum": 332, "type": "quantitative"}}}
]
}
]
}
